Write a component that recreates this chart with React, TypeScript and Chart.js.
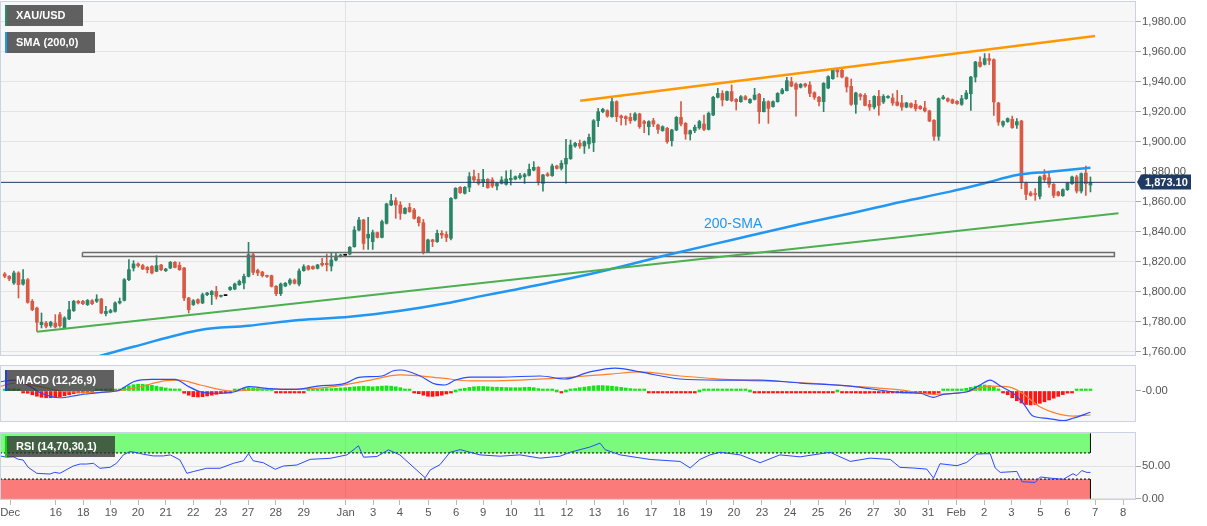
import React, { useEffect, useRef } from 'react';
import { Chart, registerables } from 'chart.js';
Chart.register(...registerables);

const FONT = "'Liberation Sans', Arial, sans-serif";

// ---------- 4H candles (XAU/USD) ----------
const opens = [
1812,1810.4,1806,1812.7,1805.3,1808.2,1793.8,1789.3,1778.2,1779.3,
1777.6,1779.3,1784.9,1776,1782,1787.6,1793.8,1793.8,1791.6,1794.2,
1793.8,1795.3,1785.6,1786.4,1787.1,1792.7,1794.4,1808.2,1816,1818.7,
1817.6,1816.4,1817.1,1813.8,1818,1814.2,1816,1819.8,1817.8,1816,
1796,1791.6,1794.9,1792.7,1798.2,1798.2,1800.4,1797.1,1797.6,1801.6,
1802,1804.9,1806,1810.4,1824.9,1814.4,1813.3,1810.9,1810.9,1803.8,
1798.9,1804,1805.8,1808,1805.3,1814.2,1817.3,1817,1815.8,1819.1,
1819.1,1817.3,1821.3,1823.6,1824.5,1825.3,1830.2,1841.3,1848,1836,
1833.6,1839.6,1836.4,1845.8,1858,1860.9,1858,1852.4,1856.4,1854.7,
1849.8,1846.2,1826.9,1834.7,1833.6,1839.1,1838.4,1835.8,1862.4,1869.8,
1865.8,1869.8,1876.9,1875.1,1872.9,1875.1,1874.7,1870.7,1872.4,1871.8,
1874.7,1875.3,1876.2,1876.9,1877.8,1881.3,1883.1,1872.4,1878.7,1877.6,
1884,1882.4,1885.3,1888.9,1897.3,1899.1,1897.3,1898.7,1899.6,1914.2,
1920.2,1920.9,1916.9,1926.9,1917.3,1916.9,1916.4,1914.7,1918.7,1913.6,
1910.2,1914.2,1911.3,1907.6,1909.1,1900.9,1908,1916.4,1912.4,1905.3,
1907.6,1909.4,1912,1908.4,1918,1929.8,1932.4,1928,1933.6,1928.4,
1926.9,1930.2,1926.2,1928.4,1931.8,1920.2,1926.9,1923.6,1926.9,1932.4,
1934.2,1940.2,1938.7,1936.5,1938.7,1938,1932.9,1929.8,1926.9,1936,
1942.2,1948.2,1947.8,1942.9,1937.1,1925.1,1931.6,1931.1,1925.1,1923.3,
1930.4,1926.7,1929.6,1929.3,1926.7,1926,1923.3,1925.6,1925.1,1923.8,
1922.7,1920.7,1914.4,1903.8,1928.9,1928.9,1928.2,1927.1,1925.1,1928.9,
1932.2,1943.3,1953.3,1951.8,1955.6,1954.9,1926,1911.3,1913.6,1915.1,
1911.3,1914,1872.7,1866,1865.5,1863.8,1877.8,1876.2,1871.8,1866.7,
1864.2,1868.2,1872.2,1876.7,1867.3,1879.3,1871.3
];
const highs = [
1813,1811,1814,1813.5,1814.9,1809,1795,1790,1786,1780.5,
1780.5,1784.9,1786.5,1783.5,1793.8,1794.5,1794.5,1794.5,1795,1795,
1798.2,1795.8,1790.4,1788.5,1793.5,1796,1809,1821.6,1820.9,1819.5,
1818.5,1817,1817.6,1824.2,1818.5,1815.8,1820.3,1820.3,1819.8,1816.4,
1796.5,1795,1795.5,1799.3,1799.8,1801,1803.8,1798,1797.6,1803.6,
1806,1808,1812,1833.1,1826,1815.3,1813.8,1811.3,1811.3,1804.2,
1806,1806.4,1809,1808.7,1815.5,1818.2,1817.8,1817.5,1818.5,1822.4,
1825.3,1825.8,1826.2,1825.2,1824.5,1830.3,1843.6,1849.8,1848.5,1849.8,
1841.3,1840,1848,1859.2,1865.1,1862.9,1860.2,1856.3,1859.1,1855.8,
1850.3,1848.4,1835.2,1835.2,1841.3,1840.9,1840.2,1862.9,1869.6,1870.3,
1870.3,1879.6,1881.3,1879.1,1881.8,1875.6,1876.2,1872.9,1876.9,1880.7,
1881.3,1877.4,1879.1,1879.1,1885.3,1886.9,1883.6,1878.5,1879.6,1885.3,
1884.5,1887.6,1901.8,1901.3,1899.8,1901.3,1900.8,1905.3,1915,1922.4,
1922.5,1921.5,1929.1,1927.5,1918,1917.5,1919.1,1919.6,1919.2,1914.5,
1914.2,1915.8,1912,1910.8,1909.8,1908.5,1917,1926.9,1913,1908,
1911.3,1914.5,1918,1920,1930.5,1935.8,1934.2,1934,1938,1929,
1931,1931,1929,1935.8,1932.4,1929.1,1927.5,1927.5,1932.9,1935.8,
1943.1,1943.1,1939.5,1939,1939.2,1940.2,1933.5,1930.5,1939.6,1944.2,
1949,1948.9,1948.5,1943.4,1942,1933.2,1932.4,1932.2,1927.8,1930.9,
1934.4,1931.6,1930.9,1932.2,1934.4,1931.1,1926.5,1926.1,1927.8,1924.3,
1927.1,1921.2,1914.9,1929.4,1931.1,1929.4,1928.7,1927.6,1931.1,1934.4,
1943.8,1953.8,1956.7,1958.9,1958.9,1955.4,1926.5,1914.1,1916.1,1917.3,
1915.6,1914.5,1873.2,1867,1868.9,1877.2,1881.6,1880,1872.3,1867.2,
1868.7,1873.2,1877.2,1877.8,1879.4,1884,1876.7
];
const lows = [
1809.5,1807.5,1805,1796,1804.5,1792.5,1787.5,1773.8,1776,1776,
1776.5,1776,1776.5,1775.5,1781.5,1787,1792,1791.5,1791,1791.5,
1793,1785.5,1784,1786,1786.5,1792,1794,1807.5,1814,1816.5,
1815,1812.7,1812,1813.5,1814.2,1813.6,1815.5,1816,1814.4,1794.2,
1786,1791,1792,1792.2,1797.6,1791.6,1795.3,1796.5,1797.6,1801,
1801.5,1804.4,1802,1810,1811.5,1810.9,1810,1809.8,1803.3,1797.6,
1797.6,1803.5,1804.7,1805.3,1804,1813.8,1814.5,1815,1815.3,1817.3,
1814,1814,1820.8,1823.2,1824.5,1824.8,1829.8,1840.8,1828.4,1828.4,
1828.4,1836,1836,1845.3,1857.5,1849.1,1848.4,1852,1853.1,1848.6,
1844,1825.3,1826.4,1830.2,1833.1,1835.8,1833.6,1834.7,1862,1865.7,
1865.3,1866.9,1873.6,1871.3,1870.2,1869.1,1869.6,1868,1872,1871.3,
1871.3,1874.8,1875.3,1872.4,1877.3,1880.8,1871.3,1867.3,1877,1877.1,
1881.9,1881.3,1872.5,1888.4,1896.5,1895.8,1892.4,1895.8,1893.6,1910.2,
1919.5,1916.5,1916.5,1913.6,1911.3,1911.3,1912.4,1914,1909.1,1906.2,
1904.7,1910.2,1905.8,1907.1,1899.1,1897.3,1907.5,1910.7,1901.8,1901.3,
1906.2,1908.5,1907.6,1908,1917.5,1929.4,1924,1927.6,1927,1921.3,
1926.5,1928,1925.8,1928,1912.4,1920,1912.4,1923.2,1926.5,1932,
1934,1936.8,1917.3,1936,1936.5,1930.2,1928.4,1924,1920.2,1935.5,
1941.8,1943.3,1942.8,1933.3,1924.4,1919.1,1928,1924,1921.1,1922,
1917.8,1925.6,1929.1,1924.4,1924,1921.1,1922.8,1922.8,1920.7,1921.7,
1920,1913.5,1901.1,1901.1,1928.4,1926.8,1925.5,1925.1,1924.4,1928.4,
1921.1,1940,1949.9,1951.3,1951.6,1917.8,1911.1,1910,1913.1,1909.1,
1909.1,1868.9,1861.6,1863.9,1861.1,1862,1873.3,1869.8,1862.9,1863.9,
1863.7,1867.7,1871.7,1866,1866,1864.4,1866.7
];
const closes = [
1810.5,1808.7,1812.7,1804.9,1808.2,1793.1,1788.2,1779.8,1779.8,1777.1,
1779.8,1776.7,1777.6,1782.7,1788.2,1793.8,1792.7,1792.2,1794.4,1792.2,
1795.3,1786,1787.1,1787.6,1792.7,1793.8,1808.2,1814.9,1818.7,1817.6,
1815.3,1814.9,1812.7,1817.6,1814.9,1815.3,1819.8,1816.4,1814.9,1796,
1788.2,1794.2,1792.7,1798.2,1799.3,1800.4,1797.1,1797.6,1797.6,1803.1,
1805.3,1807.1,1810.4,1824.9,1813.1,1812.7,1810.9,1810.4,1803.8,1798.9,
1805.3,1805.8,1808,1805.8,1814,1816.9,1815.1,1815.5,1818,1818,
1818.2,1821.3,1824,1824.7,1824.5,1829.8,1841.3,1848,1832.4,1838.5,
1839.6,1836.4,1846.9,1858.7,1860.9,1858,1852.4,1855.8,1853.6,1849.1,
1846.2,1826.9,1834.7,1833.6,1839.1,1838,1836.4,1862.4,1869.1,1866.2,
1869.8,1876.9,1874.7,1872.4,1875.1,1869.6,1870.7,1872.4,1874.7,1875.3,
1875.8,1876.9,1877.6,1878.2,1881.8,1883.1,1873.6,1878,1877.6,1884,
1882.4,1885.8,1889.1,1898,1899.1,1897.3,1900.2,1903.1,1914.2,1920.2,
1921.8,1917.3,1926.9,1916.9,1916.2,1915.5,1914.2,1918.7,1910.2,1912.4,
1913.6,1912,1908.4,1910.2,1900.2,1908,1916.4,1912,1905.3,1907.6,
1909.8,1913.6,1908.4,1919.1,1929.8,1932.4,1928,1933.6,1927.6,1926.9,
1930.2,1928.4,1928.4,1931.3,1920.2,1926.9,1922.4,1926.9,1932.4,1934.7,
1940.9,1937.3,1935.1,1938.4,1937.3,1932.4,1929.8,1926.9,1939.1,1943.6,
1948.2,1946.7,1943.3,1936.7,1925.1,1932.7,1930.4,1924.4,1923.3,1930.4,
1924.4,1930.4,1930.4,1926,1924.4,1923.3,1926,1923.3,1922.2,1922.2,
1920.7,1914,1903.8,1928.9,1930,1927.3,1926,1925.6,1928.9,1932.7,
1943.3,1953.3,1950.4,1955.6,1954.4,1926.7,1913.3,1913.6,1915.6,1909.6,
1913.6,1873.3,1865.1,1864.4,1865,1876.7,1874.9,1871.8,1864.4,1864.4,
1868.2,1872.7,1876.7,1867.3,1878.9,1872.2,1873.1
];

// 200-period SMA samples (candle index, value)
const smaIdx = [14, 20, 28, 42.5, 53, 64, 75, 86, 96, 103, 110.5, 123, 131, 144, 158, 173, 184, 195, 205.5, 213, 220, 227.2, 236];
const smaVal = [1752.5, 1756.9, 1763.5, 1774.7, 1777.5, 1781.3, 1783.5, 1787.5, 1792.5, 1796.9, 1801.3, 1809.1, 1814.7, 1824.7, 1834.7, 1845.3, 1852.5, 1860.2, 1866.9, 1872.5, 1878, 1880.2, 1882.9];

// drawn trend lines / zone
const supportLine = { i0: 7, v0: 1773.5, i1: 242.1, v1: 1852.5 };
const resistLine = { i0: 125.1, v0: 1927.5, i1: 237, v1: 1970.7 };
const zone = { i0: 16.9, i1: 241.2, lo: 1823.7, hi: 1826.3 };
const lastPrice = 1873.1;
const priceTicks = [1760, 1780, 1800, 1820, 1840, 1860, 1880, 1900, 1920, 1940, 1960, 1980];

// MACD (12,26,9)
const macdIdx = [-1, 2, 5, 8, 12, 16, 21, 25, 28, 32, 37, 40, 42.5, 46, 50, 53, 57, 60.5, 64, 68, 74, 77, 82, 84.5, 86, 90.3, 93.5, 95.7, 98, 101.2, 107.7, 116.4, 121.8, 127.2, 132.7, 138.1, 146.8, 155.5, 164.2, 172.9, 183.8, 194.6, 199, 201.8, 204, 209.2, 212, 214.2, 216.4, 219.2, 221.4, 223.5, 226.6, 230.1, 232.2, 236];
const macdVal = [6.2, 7.3, 4, -1.5, -4.5, -2.7, -0.9, 0.7, 6.2, 7.8, 7.8, 2.9, -0.5, -1.5, -0.5, 2.9, 1.8, 1.1, 1.3, 3.3, 5.1, 9.1, 10, 13.5, 14, 10, 4.7, 4, 7.3, 9.3, 9.3, 10, 8, 12.7, 15.3, 12.7, 8, 7.3, 7.3, 5.3, 3.3, -0.9, -1.5, -4.2, -2.2, -0.5, 4, 7.3, 3.3, -1.5, -8.2, -16.7, -18.2, -19.8, -18.2, -14.2];
const signalIdx = [-1, 2.7, 7.7, 13.5, 20.7, 28, 35, 38, 42.5, 49.6, 57, 64.2, 71.4, 78.8, 86, 94.6, 101.2, 112, 120.7, 131.6, 138.1, 146.8, 159.9, 170.7, 183.8, 194.6, 201.8, 209.2, 214.2, 217.9, 220.7, 225, 228.6, 232.2, 236];
const signalVal = [3.1, 5.5, 2.9, -0.5, -0.9, 1.8, 6.9, 7.3, 4, 0, 1.3, 1.3, 2.9, 6.9, 10.7, 8.7, 6.7, 7.3, 8.7, 11.3, 12.7, 10, 7.3, 6, 3.3, 0.7, -2.2, -0.5, 3.3, 2.9, -0.5, -10.5, -14.9, -16.7, -16];
const macdHist = [
1.2, 1.5, 1.5, 1.0,
-0.5, -1.5, -2.5, -3.5, -4.2, -4.5, -4.5, -4.2, -3.8, -3.2, -2.5, -1.8,
-1.2, -0.8, -0.5, -0.3, 0.2, 0.3, 0.5, 0.6, 0.8, 1.2,
2.5, 3.5, 4.2, 4.5, 4.5, 4.2, 3.8, 3.2, 2.6, 2.0, 1.5, 1.0, 0.5,
-1.5, -2.8, -3.8, -4.0, -3.8, -3.3, -2.8, -2.2, -1.6, -1.0, -0.5,
0.5, 1.2, 1.8, 2.2, 2.0, 1.6, 1.2, 0.6, 0.2,
-0.6, -1.0, -1.2, -1.2, -1.0, -0.6, -0.2,
0.4, 0.8, 1.2, 1.5, 1.6, 1.6, 1.8, 2.0,
2.2, 2.5, 2.8, 3.0, 3.2, 3.0, 2.8, 3.0, 3.2, 3.4, 3.2, 2.8, 2.2,
1.2, 0.2, -0.8, -1.8, -2.8, -3.5, -3.6, -3.3, -2.8, -2.0, -1.0, 0.0,
1.0, 1.8, 2.4, 2.8, 3.0, 3.0, 2.8, 2.6, 2.5, 2.4, 2.3, 2.2, 2.2, 2.2, 2.4, 2.5, 2.2, 1.6, 1.2, 0.8, 0.4, 0.0, -0.4,
0.0, 0.8, 1.6, 2.2, 2.6, 3.0, 3.4, 3.6, 3.6, 3.4, 3.2, 2.8, 2.4, 2.0, 1.6, 1.2,
0.6, 0.2, -0.2, -0.6, -0.8, -1.0, -1.2, -1.2, -1.0, -0.8, -0.6, -0.4, -0.2, 0.0, 0.2, 0.4, 0.6, 0.7, 0.6, 0.5, 0.4, 0.3, 0.2, 0.1, 0.0, -0.2,
-0.5, -0.8, -1.0, -1.0, -0.9, -0.8, -0.6, -0.4, -0.5, -0.7, -0.9, -1.1, -1.3, -1.2, -1.0, -0.6, -0.2, 0.0, -0.2, -0.6, -1.0, -1.3, -1.5, -1.5, -1.4, -1.3, -1.2, -1.1, -1.0, -1.0,
-1.0, -1.2, -1.3, -1.4, -1.5, -1.5, -1.6, -1.8, -2.0,
-0.8, 0.2, 0.5, 0.6, 0.8,
1.2, 1.8, 2.5, 3.2, 3.8, 4.0, 3.6, 2.6, 1.4,
-0.8, -2.5, -4.5, -6.5, -8.0, -9.0, -9.3, -9.0, -8.2, -7.2, -6.0, -4.8, -3.6, -2.4, -1.4, -0.6,
0.3, 0.7, 0.8, 0.8
];

// RSI (14,70,30,1)
const rsiIdx = [-1, 0.4, 1.9, 3, 4, 5.1, 7, 9.8, 10.9, 12, 14.9, 16.4, 17.8, 19.3, 20.7, 22.9, 24.3, 25.8, 27.2, 28.7, 30.1, 32.3, 34.5, 36, 38.1, 39.6, 41, 43.9, 46.8, 49.7, 51.9, 53, 54, 56.2, 58.8, 60.6, 63.5, 66.4, 70.7, 74.4, 76.9, 78, 80.9, 83.4, 85.9, 87, 91.4, 92.5, 94.6, 96.8, 99, 103.3, 107.7, 112, 116.4, 120.7, 122.9, 127.2, 129.4, 130.5, 133.8, 140.3, 146.8, 149, 151.1, 153.3, 155.5, 159.9, 164.2, 168.5, 172.9, 179.4, 183.8, 188.1, 192.5, 194.6, 197.5, 200.4, 201.9, 203.3, 207, 209.1, 211.3, 213.5, 214.2, 215.3, 216.4, 220, 221.1, 224, 225.1, 227.2, 230.1, 232.2, 233, 234.1, 235.2, 236];
const rsiVal = [65.4, 63.5, 64, 60.2, 59.2, 48, 38.8, 37.7, 40.3, 38.8, 50, 53, 53, 54.1, 46.5, 48, 54.1, 67, 72, 70.5, 68, 65.4, 65.4, 67, 59.2, 38.8, 41.5, 46.5, 46.5, 54.1, 58, 69, 58, 55, 45, 50, 51.5, 60.2, 61.7, 67, 80.9, 63.5, 64.5, 74.7, 67, 60, 32, 44, 52, 71, 75, 67, 65, 67, 62, 65, 71, 79, 85, 75, 67, 60, 57, 47, 60, 67, 71, 67, 55, 67, 64, 71, 57, 62, 60, 47.9, 46.9, 45.3, 31.5, 53.5, 50.5, 55.5, 68.3, 68.8, 68.8, 46.9, 40.2, 41.7, 26, 24.9, 33.2, 31.5, 29.7, 38.2, 35.2, 43, 40.2, 40.2];
const rsiUpper = 70;
const rsiLower = 30;

// date axis
const dateTickPos = [1.2, 11.1, 17.1, 23.1, 29.0, 35.0, 41.0, 47.0, 52.9, 58.9, 65.0, 74.1, 80.1, 85.9, 92.1, 98.1, 104.0, 110.1, 116.2, 122.2, 128.3, 134.4, 140.5, 146.6, 152.5, 158.5, 164.6, 170.7, 176.8, 182.7, 188.8, 194.6, 200.7, 206.8, 212.9, 218.8, 225.1, 231.0, 237.0, 243.1];
const dateTickLabels = ['Dec', '16', '18', '19', '20', '21', '22', '23', '27', '28', '29', 'Jan', '3', '4', '5', '6', '9', '10', '11', '12', '13', '16', '17', '18', '19', '20', '23', '24', '25', '26', '27', '30', '31', 'Feb', '2', '3', '5', '6', '7', '8'];
const monthLabels = ['Jan', 'Feb'];

const X_MIN = -1.02;
const X_MAX = 245.9;
const LAST_I = opens.length - 1;

const GREEN = '#2d8569';
const RED = '#d75a45';

function pts(xs: number[], ys: number[]) {
  const n = Math.min(xs.length, ys.length);
  const out: any[] = [];
  for (let i = 0; i < n; i++) out.push({ x: xs[i], y: ys[i] });
  return out;
}

function fmtPrice(v: number) {
  return v.toLocaleString('en-US', { minimumFractionDigits: 2, maximumFractionDigits: 2 });
}

const panelPlugin = {
  id: 'panelBg',
  beforeDraw(chart: any) {
    const { ctx, chartArea: a } = chart;
    ctx.save();
    ctx.fillStyle = '#f7f7f7';
    ctx.fillRect(a.left, a.top, a.right - a.left, a.bottom - a.top);
    ctx.restore();
  },
  afterDraw(chart: any) {
    const { ctx, chartArea: a } = chart;
    ctx.save();
    ctx.strokeStyle = '#cbd2e6';
    ctx.lineWidth = 1;
    ctx.strokeRect(Math.round(a.left) + 0.5, Math.round(a.top) + 0.5, Math.round(a.right - a.left) - 1, Math.round(a.bottom - a.top) - 1);
    ctx.restore();
  },
};

function drawTag(ctx: any, x: number, y: number, w: number, h: number, text: string, accent: string) {
  ctx.save();
  ctx.fillStyle = 'rgba(48,48,48,0.76)';
  ctx.fillRect(x, y, w, h);
  ctx.fillStyle = accent;
  ctx.fillRect(x, y, 2, h);
  ctx.fillStyle = '#ffffff';
  ctx.font = `bold 11px ${FONT}`;
  ctx.textBaseline = 'middle';
  ctx.textAlign = 'left';
  ctx.fillText(text, x + 11, y + h / 2 + 0.5);
  ctx.restore();
}

function xScale(withLabels: boolean) {
  return {
    type: 'linear',
    min: X_MIN,
    max: X_MAX,
    offset: false,
    afterBuildTicks: (s: any) => { s.ticks = dateTickPos.map((v) => ({ value: v })); },
    afterFit: (s: any) => { s.height = withLabels ? 26 : 0; s.paddingLeft = 0; s.paddingRight = 0; },
    grid: {
      offset: false,
      color: (c: any) => (monthLabels.includes(dateTickLabels[c.index]) ? '#e2e2e2' : 'rgba(0,0,0,0)'),
      lineWidth: 1,
      drawTicks: withLabels,
      tickLength: 5,
      tickColor: '#b8b8b8',
    },
    border: { display: false },
    ticks: {
      display: withLabels,
      autoSkip: false,
      maxRotation: 0,
      minRotation: 0,
      padding: 1,
      color: '#555',
      font: { family: FONT, size: 11.3 },
      callback: (_v: any, i: number) => dateTickLabels[i],
    },
  };
}

function yScale(min: number, max: number, ticks: number[], label: (v: number) => string, gridColor: string) {
  return {
    type: 'linear',
    position: 'right',
    min,
    max,
    afterBuildTicks: (s: any) => { s.ticks = ticks.map((v) => ({ value: v })); },
    afterFit: (s: any) => { s.width = 71; s.paddingTop = 0; s.paddingBottom = 0; },
    grid: { color: gridColor, drawTicks: true, tickLength: 5, tickColor: '#aaaaaa' },
    border: { display: false },
    ticks: { padding: 1, color: '#555', font: { family: FONT, size: 11.3 }, callback: (v: any) => label(Number(v)) },
  };
}

const baseOptions = {
  responsive: false,
  maintainAspectRatio: false,
  animation: false,
  devicePixelRatio: 1,
  events: [],
};

function mainConfig(): any {
  const n = opens.length;
  const bodyData: any[] = [];
  const wickData: any[] = [];
  const colors: string[] = [];
  for (let i = 0; i < n; i++) {
    bodyData.push({ x: i, y: [opens[i], closes[i]] });
    wickData.push({ x: i, y: [lows[i], highs[i]] });
    colors.push(closes[i] > opens[i] ? GREEN : closes[i] < opens[i] ? RED : '#000000');
  }
  const line = (data: any[], color: string, width: number, extra: any = {}) => ({
    type: 'line', data, borderColor: color, borderWidth: width, pointRadius: 0, fill: false, ...extra,
  });
  const textPlugin = {
    id: 'mainText',
    afterDraw(chart: any) {
      const { ctx, scales } = chart;
      const x = scales.x;
      const y = scales.y;
      ctx.save();
      ctx.fillStyle = '#2196f3';
      ctx.font = `14px ${FONT}`;
      ctx.textBaseline = 'middle';
      ctx.textAlign = 'left';
      ctx.fillText('200-SMA', x.getPixelForValue(152), y.getPixelForValue(1845.3));
      // last price tag
      const yc = Math.round(y.getPixelForValue(lastPrice));
      const left = chart.chartArea.right + 1;
      ctx.fillStyle = '#1f3b63';
      ctx.beginPath();
      ctx.moveTo(left, yc);
      ctx.lineTo(left + 4, yc - 7.5);
      ctx.lineTo(left + 54, yc - 7.5);
      ctx.lineTo(left + 54, yc + 7.5);
      ctx.lineTo(left + 4, yc + 7.5);
      ctx.closePath();
      ctx.fill();
      ctx.fillStyle = '#ffffff';
      ctx.font = `bold 11px ${FONT}`;
      ctx.fillText(fmtPrice(lastPrice), left + 8, yc + 0.5);
      ctx.restore();
      drawTag(ctx, 5, 5, 78, 21, 'XAU/USD', '#2a8a6a');
      drawTag(ctx, 5, 32, 90, 21, 'SMA (200,0)', '#2196f3');
    },
  };
  return {
    type: 'bar',
    data: {
      datasets: [
        line(pts([X_MIN, X_MAX], [lastPrice, lastPrice]), '#1f3b63', 1, { order: 0 }),
        line(pts([supportLine.i0, supportLine.i1], [supportLine.v0, supportLine.v1]), '#4caf50', 2.2, { order: 1 }),
        line(pts([resistLine.i0, resistLine.i1], [resistLine.v0, resistLine.v1]), '#ff9800', 2.5, { order: 1 }),
        line(pts(smaIdx, smaVal), '#2196f3', 2.5, { order: 1, cubicInterpolationMode: 'monotone' }),
        line(pts([zone.i0, zone.i1, zone.i1, zone.i0, zone.i0], [zone.hi, zone.hi, zone.lo, zone.lo, zone.hi]), '#6b6b6b', 1.5, { order: 2 }),
        {
          type: 'bar', data: bodyData, backgroundColor: colors, borderWidth: 0,
          barThickness: 3, maxBarThickness: 3, minBarLength: 1, grouped: false, order: 3,
        },
        {
          type: 'bar', data: wickData, backgroundColor: colors, borderWidth: 0,
          barThickness: 1, maxBarThickness: 1, grouped: false, order: 4,
        },
      ],
    },
    options: {
      ...baseOptions,
      layout: { padding: { top: 1, bottom: 8, left: 0, right: 0 } },
      plugins: { legend: { display: false }, tooltip: { enabled: false } },
      scales: {
        x: xScale(false),
        y: yScale(1757.33, 1994, priceTicks, fmtPrice, '#e4e4e4'),
      },
    },
    plugins: [panelPlugin, textPlugin],
  };
}

function macdConfig(): any {
  const histData = macdHist.map((v, i) => ({ x: i, y: v }));
  const histColors = macdHist.map((v) => (v >= 0 ? '#14e614' : '#ff1414'));
  const tagPlugin = { id: 'macdTag', afterDraw(chart: any) { drawTag(chart.ctx, 5, 8, 109, 21, 'MACD (12,26,9)', '#1e3cff'); } };
  return {
    type: 'bar',
    data: {
      datasets: [
        { type: 'line', data: pts(macdIdx, macdVal), borderColor: '#2b4bff', borderWidth: 1.2, pointRadius: 0, cubicInterpolationMode: 'monotone', order: 0 },
        { type: 'line', data: pts(signalIdx, signalVal), borderColor: '#ff7f2a', borderWidth: 1.2, pointRadius: 0, cubicInterpolationMode: 'monotone', order: 1 },
        { type: 'bar', data: histData, backgroundColor: histColors, borderWidth: 0, barThickness: 3, maxBarThickness: 3, minBarLength: 2, grouped: false, order: 2 },
      ],
    },
    options: {
      ...baseOptions,
      layout: { padding: { top: 3, bottom: 4, left: 0, right: 0 } },
      plugins: { legend: { display: false }, tooltip: { enabled: false } },
      scales: {
        x: xScale(false),
        y: yScale(-20.67, 17.33, [0], () => '-0.00', 'rgba(0,0,0,0)'),
      },
    },
    plugins: [panelPlugin, tagPlugin],
  };
}

function rsiConfig(): any {
  const tagPlugin = { id: 'rsiTag', afterDraw(chart: any) { drawTag(chart.ctx, 5, 7, 110, 21, 'RSI (14,70,30,1)', '#00e000'); } };
  const flat = (v: number) => pts([X_MIN, LAST_I], [v, v]);
  return {
    type: 'line',
    data: {
      datasets: [
        { data: pts(rsiIdx, rsiVal), borderColor: '#2b4bff', borderWidth: 1, pointRadius: 0, fill: false, tension: 0, order: 0 },
        { data: flat(100), borderWidth: 0, pointRadius: 0, fill: false, order: 5 },
        { data: flat(rsiUpper), borderColor: '#000', borderWidth: 1, borderDash: [2, 2], pointRadius: 0, fill: '-1', backgroundColor: 'rgba(0,255,0,0.5)', order: 4 },
        { data: flat(0), borderWidth: 0, pointRadius: 0, fill: false, order: 5 },
        { data: flat(rsiLower), borderColor: '#000', borderWidth: 1, borderDash: [2, 2], pointRadius: 0, fill: '-1', backgroundColor: 'rgba(255,0,0,0.5)', order: 4 },
        { data: pts([LAST_I, LAST_I], [rsiUpper, 100]), borderColor: '#000', borderWidth: 1, pointRadius: 0, fill: false, order: 3 },
        { data: pts([LAST_I, LAST_I], [0, rsiLower]), borderColor: '#000', borderWidth: 1, pointRadius: 0, fill: false, order: 3 },
      ],
    },
    options: {
      ...baseOptions,
      layout: { padding: { top: 3, bottom: 0, left: 0, right: 0 } },
      plugins: { legend: { display: false }, tooltip: { enabled: false }, filler: { propagate: false } },
      scales: {
        x: xScale(true),
        y: yScale(-2, 102, [0, 50], (v) => v.toFixed(2), '#e2e2e2'),
      },
    },
    plugins: [panelPlugin, tagPlugin],
  };
}

export default function App() {
  const mainRef = useRef<HTMLCanvasElement>(null);
  const macdRef = useRef<HTMLCanvasElement>(null);
  const rsiRef = useRef<HTMLCanvasElement>(null);

  useEffect(() => {
    Chart.defaults.font.family = FONT;
    const charts: Chart[] = [];
    if (mainRef.current) charts.push(new Chart(mainRef.current, mainConfig()));
    if (macdRef.current) charts.push(new Chart(macdRef.current, macdConfig()));
    if (rsiRef.current) charts.push(new Chart(rsiRef.current, rsiConfig()));
    return () => charts.forEach((c) => c.destroy());
  }, []);

  return (
    <div style={{ position: 'fixed', left: 0, top: 0, width: 1207, height: 526, background: '#ffffff', overflow: 'hidden' }}>
      <canvas ref={mainRef} width={1207} height={364} style={{ position: 'absolute', left: 0, top: 0, width: 1207, height: 364 }} />
      <canvas ref={macdRef} width={1207} height={64} style={{ position: 'absolute', left: 0, top: 362, width: 1207, height: 64 }} />
      <canvas ref={rsiRef} width={1207} height={97} style={{ position: 'absolute', left: 0, top: 429, width: 1207, height: 97 }} />
    </div>
  );
}
